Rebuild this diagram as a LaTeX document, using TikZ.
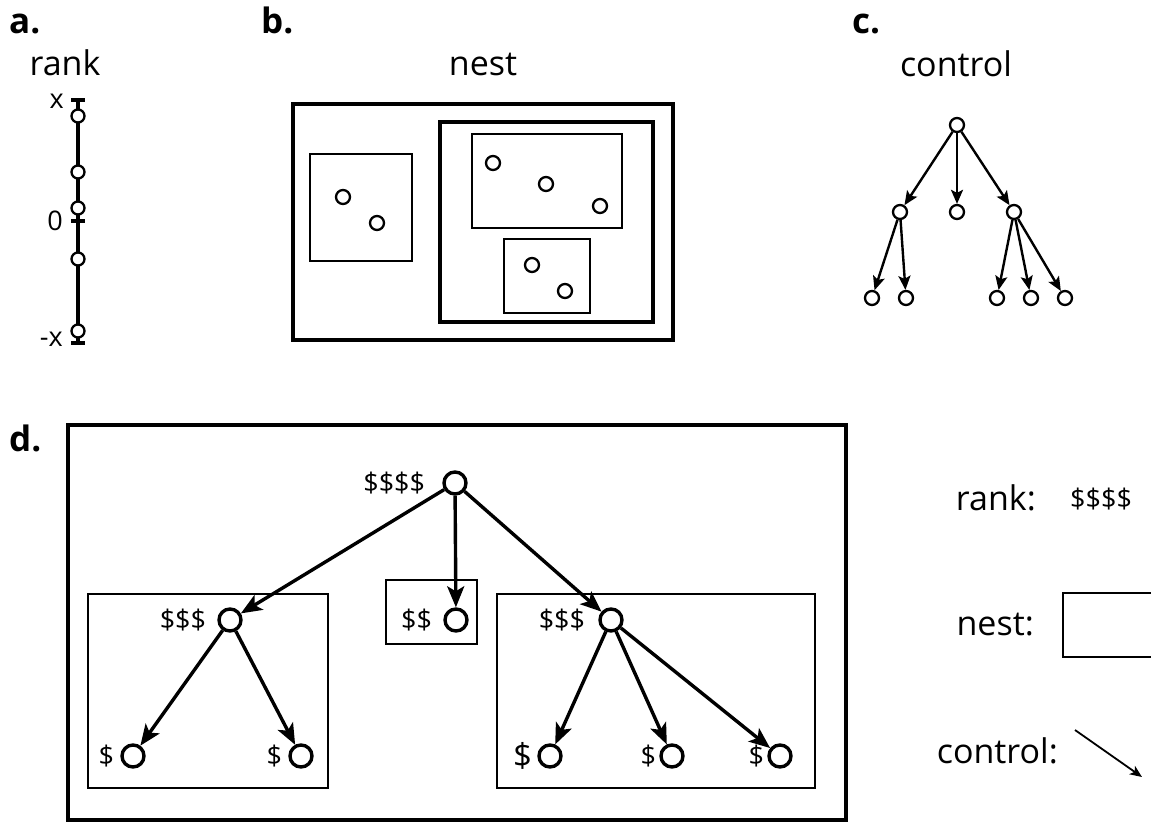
\documentclass[tikz,border=0pt]{standalone}
\usepackage{fontspec}
\setmainfont{Open Sans}
\usetikzlibrary{arrows.meta}
\begin{document}
\begin{tikzpicture}[x=1pt,y=-1pt,
  title/.style={font=\fontsize{34}{38}\selectfont, inner sep=0pt},
  panel/.style={font=\bfseries\fontsize{35}{38}\selectfont, inner sep=0pt, anchor=base west},
  small/.style={font=\fontsize{27}{30}\selectfont, inner sep=0pt, anchor=base east},
  lab/.style={font=\fontsize{27}{30}\selectfont, inner sep=0pt},
  dotA/.style={circle, draw, fill=white, line width=2.3pt, inner sep=0pt, minimum size=13pt},
  dotB/.style={circle, draw, fill=white, line width=2.3pt, inner sep=0pt, minimum size=14pt},
  dotD/.style={circle, draw, fill=white, line width=3.4pt, inner sep=0pt, minimum size=22pt},
  thinbox/.style={draw, line width=2pt},
  thickbox/.style={draw, line width=4.4pt},
  arrC/.style={-{Stealth[length=14pt,width=12pt,inset=3pt]}, line width=2.4pt},
  arrD/.style={-{Stealth[length=21pt,width=17pt,inset=5pt]}, line width=3.4pt},
]
\useasboundingbox (0,0) rectangle (1151,822);

% ---------- panel a ----------
\node[panel] (pa) at (9,33) {a.};
\node[title, anchor=base] (ranka) at (65,75) {rank};
\draw[line width=4pt] (78,100) -- (78,343);
\draw[line width=4pt] (71,100) -- (85,100);
\draw[line width=4pt] (71,221) -- (85,221);
\draw[line width=4pt] (71,343) -- (85,343);
\foreach \y/\n in {116/a1,172/a2,208/a3,259/a4,331/a5}
  \node[dotA] (\n) at (78,\y) {};
\node[small] (lx) at (64,108) {x};
\node[small] (l0) at (63,230) {0};
\node[small] (lmx) at (63,346) {-x};

% ---------- panel b ----------
\node[panel] (pb) at (261,33) {b.};
\node[title, anchor=base] (nestb) at (483,75) {nest};
\draw[thickbox] (293,104) rectangle (673,340);
\draw[thickbox] (440,122) rectangle (653,322);
\draw[thinbox] (310,154) rectangle (412,261);
\draw[thinbox] (472,134) rectangle (622,228);
\draw[thinbox] (504,239) rectangle (590,313);
\node[dotB] (b1) at (343,197) {};
\node[dotB] (b2) at (377,223) {};
\node[dotB] (b3) at (493,163) {};
\node[dotB] (b4) at (546,184) {};
\node[dotB] (b5) at (600,206) {};
\node[dotB] (b6) at (532,265) {};
\node[dotB] (b7) at (565,291) {};

% ---------- panel c ----------
\node[panel] (pc) at (852,33) {c.};
\node[title, anchor=base] (controlc) at (956,76) {control};
\node[dotB] (c0) at (957,125) {};
\node[dotB] (c1) at (900,212) {};
\node[dotB] (c2) at (957,212) {};
\node[dotB] (c3) at (1014,212) {};
\node[dotB] (c11) at (872,298) {};
\node[dotB] (c12) at (906,298) {};
\node[dotB] (c31) at (997,298) {};
\node[dotB] (c32) at (1031,298) {};
\node[dotB] (c33) at (1065,298) {};
\draw[arrC] (c0) -- (c1);
\draw[arrC] (c0) -- (c2);
\draw[arrC] (c0) -- (c3);
\draw[arrC] (c1) -- (c11);
\draw[arrC] (c1) -- (c12);
\draw[arrC] (c3) -- (c31);
\draw[arrC] (c3) -- (c32);
\draw[arrC] (c3) -- (c33);

% ---------- panel d ----------
\node[panel] (pd) at (9,451) {d.};
\draw[thickbox] (68,425) rectangle (846,820);
\draw[thinbox] (88,594) rectangle (328,788);
\draw[thinbox] (386,580) rectangle (477,644);
\draw[thinbox] (497,594) rectangle (815,788);

\node[dotD] (d0) at (455,483) {};
\node[dotD] (d1) at (230,620) {};
\node[dotD] (d2) at (456,620) {};
\node[dotD] (d3) at (611,620) {};
\node[dotD] (d11) at (133,756) {};
\node[dotD] (d12) at (301,756) {};
\node[dotD] (d31) at (550,756) {};
\node[dotD] (d32) at (672,756) {};
\node[dotD] (d33) at (780,756) {};

\node[lab, anchor=east] (l0) at ([xshift=-17pt]d0.west) {\$\$\$\$};
\node[lab, anchor=east] (l1) at ([xshift=-11pt]d1.west) {\$\$\$};
\node[lab, anchor=east] (l2) at ([xshift=-11pt]d2.west) {\$\$};
\node[lab, anchor=east] (l3) at ([xshift=-13pt]d3.west) {\$\$\$};
\node[lab, anchor=east] (l11) at ([xshift=-6pt]d11.west) {\$};
\node[lab, anchor=east] (l12) at ([xshift=-6pt]d12.west) {\$};
\node[font=\fontsize{33}{36}\selectfont, inner sep=0pt, anchor=east] (l31) at ([xshift=-5pt]d31.west) {\$};
\node[lab, anchor=east] (l32) at ([xshift=-3pt]d32.west) {\$};
\node[lab, anchor=east] (l33) at ([xshift=-3pt]d33.west) {\$};

\draw[arrD] (d0) -- (d1);
\draw[arrD] (d0) -- (d2);
\draw[arrD] (d0) -- (d3);
\draw[arrD] (d1) -- (d11);
\draw[arrD] (d1) -- (d12);
\draw[arrD] (d3) -- (d31);
\draw[arrD] (d3) -- (d32);
\draw[arrD] (d3) -- (d33);

% ---------- legend ----------
\node[title, anchor=base east] (lrank) at (1036,510) {rank:};
\node[lab, anchor=west] (lrankv) at (1070,499) {\$\$\$\$};
\node[title, anchor=base east] (lnest) at (1034,635) {nest:};
\draw[thinbox] (1162,593) -- (1063,593) -- (1063,657) -- (1162,657);
\node[title, anchor=base east] (lcontrol) at (1058,763) {control:};
\coordinate (ca) at (1075,730);
\coordinate (cb) at (1142,777);
\draw[-{Stealth[length=12pt,width=10pt,inset=3pt]}, line width=1.8pt] (ca) -- (cb);
\end{tikzpicture}
\end{document}
